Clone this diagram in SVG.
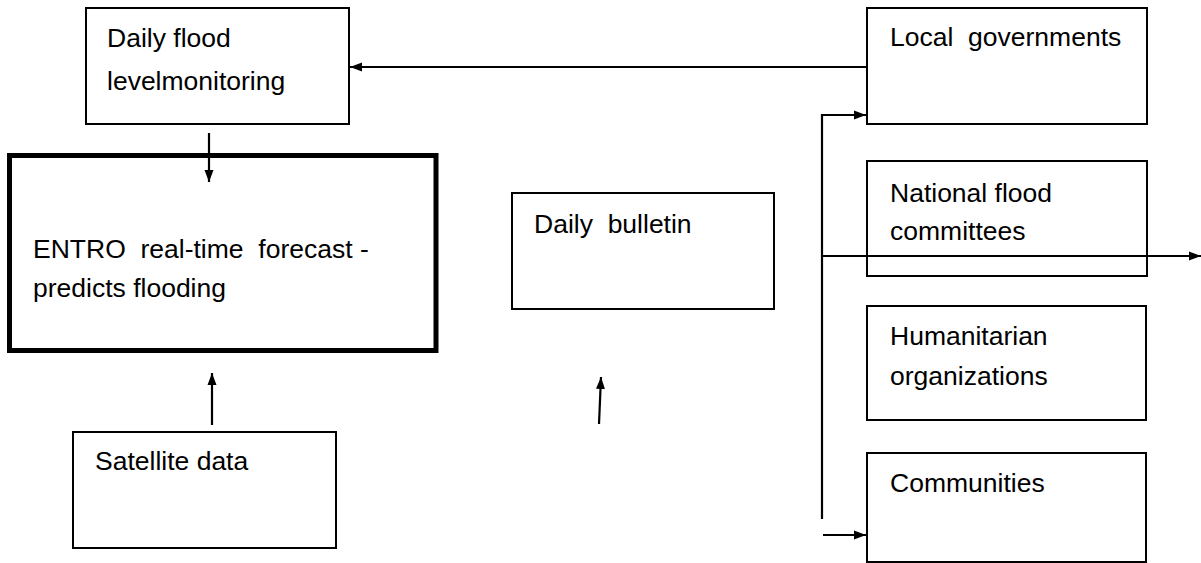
<svg xmlns="http://www.w3.org/2000/svg" width="1201" height="563" viewBox="0 0 1201 563">
  <style>
    .box { fill: #ffffff; stroke: #000000; stroke-width: 2; }
    .bold { fill: #ffffff; stroke: #000000; stroke-width: 5; }
    .lbl { font-family: "Liberation Sans", Arial, sans-serif; font-size: 26.5px; fill: #000000; white-space: pre; }
    .wire { fill: none; stroke: #000000; stroke-width: 2.2; }
  </style>
  <defs>
    <marker id="head" viewBox="0 0 12 10" refX="12" refY="5" markerWidth="12" markerHeight="10" markerUnits="userSpaceOnUse" orient="auto">
      <path d="M0,0.5 L12,5 L0,9.5 z" fill="#000000"/>
    </marker>
  </defs>

  <g id="monitoring">
    <rect class="box" x="86" y="8" width="263" height="116"/>
    <text class="lbl" x="107" y="47">Daily flood</text>
    <text class="lbl" x="107" y="90">levelmonitoring</text>
  </g>

  <g id="forecast">
    <rect class="bold" x="9.5" y="155.5" width="426.5" height="195"/>
    <text class="lbl" x="33" y="258">ENTRO  real-time  forecast -</text>
    <text class="lbl" x="33" y="297">predicts flooding</text>
  </g>

  <g id="satellite">
    <rect class="box" x="73" y="432" width="263" height="116"/>
    <text class="lbl" x="95" y="470">Satellite data</text>
  </g>

  <g id="bulletin">
    <rect class="box" x="512" y="193" width="262" height="116"/>
    <text class="lbl" x="534" y="233">Daily  bulletin</text>
  </g>

  <g id="local-governments">
    <rect class="box" x="867" y="8" width="280" height="116"/>
    <text class="lbl" x="890" y="46">Local  governments</text>
  </g>

  <g id="flood-committees">
    <rect class="box" x="867" y="161" width="280" height="115"/>
    <text class="lbl" x="890" y="202">National flood</text>
    <text class="lbl" x="890" y="240">committees</text>
  </g>

  <g id="humanitarian">
    <rect class="box" x="867" y="306" width="279" height="114"/>
    <text class="lbl" x="890" y="345">Humanitarian</text>
    <text class="lbl" x="890" y="385">organizations</text>
  </g>

  <g id="communities">
    <rect class="box" x="867" y="453" width="279" height="109"/>
    <text class="lbl" x="890" y="492">Communities</text>
  </g>

  <g id="connectors">
    <line class="wire" x1="866" y1="67" x2="350" y2="67" marker-end="url(#head)"/>
    <line class="wire" x1="209" y1="133" x2="209" y2="182" marker-end="url(#head)"/>
    <line class="wire" x1="212" y1="425" x2="212" y2="373" marker-end="url(#head)"/>
    <line class="wire" x1="599" y1="424" x2="601" y2="377" marker-end="url(#head)"/>
    <polyline class="wire" points="822,519 822,115 866,115" marker-end="url(#head)"/>
    <line class="wire" x1="822" y1="256" x2="1201" y2="256" marker-end="url(#head)"/>
    <line class="wire" x1="823" y1="535" x2="866" y2="535" marker-end="url(#head)"/>
  </g>
</svg>
